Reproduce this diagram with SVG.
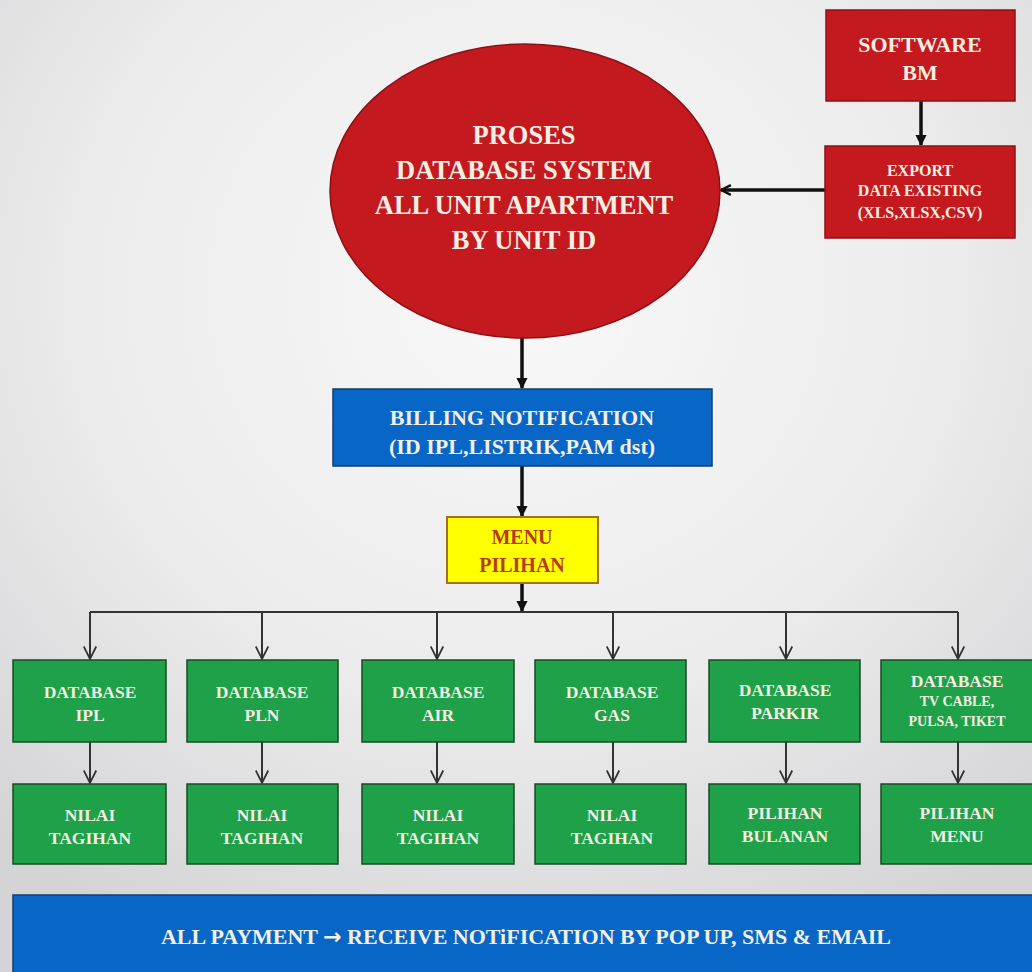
<svg xmlns="http://www.w3.org/2000/svg" width="1032" height="972" viewBox="0 0 1032 972">
<defs>
<radialGradient id="bg" cx="0.5" cy="0.3" r="0.75">
<stop offset="0" stop-color="#f8f8f8"/>
<stop offset="0.55" stop-color="#ececec"/>
<stop offset="1" stop-color="#d4d4d7"/>
</radialGradient>
<marker id="ah" viewBox="0 0 10 10" refX="9" refY="5" markerWidth="3.2" markerHeight="3.2" orient="auto" markerUnits="strokeWidth">
<path d="M0,0 L10,5 L0,10 Z" fill="#111"/>
</marker>
<marker id="ahl" viewBox="0 0 10 10" refX="9" refY="5" markerWidth="3.5" markerHeight="3.5" orient="auto" markerUnits="strokeWidth">
<path d="M1,1 L9,5 L1,9" fill="none" stroke="#111" stroke-width="2"/>
</marker>
<marker id="av" viewBox="0 0 12 12" refX="11" refY="6" markerWidth="7.5" markerHeight="7.5" orient="auto" markerUnits="strokeWidth">
<path d="M1,1 L11,6 L1,11" fill="none" stroke="#333" stroke-width="1.4"/>
</marker>
</defs>
<style>
.red{fill:#c41a1f;stroke:#8e1014;stroke-width:1.5}
.blue{fill:#0866c6;stroke:#123d6e;stroke-width:1.5}
.green{fill:#1fa14a;stroke:#1b4a26;stroke-width:1.5}
.yellow{fill:#ffff00;stroke:#a0701c;stroke-width:2}
text{font-family:"Liberation Serif","Times New Roman",serif;font-weight:bold;text-anchor:middle;fill:#f3efe2}
.t26{font-size:26.5px}
.t22{font-size:22px}
.t16{font-size:16px}
.t17{font-size:17.5px}
.t14{font-size:14px}
.menu{font-size:20px;fill:#b83a1c}
.arr{font-family:"DejaVu Sans",sans-serif;font-size:22px}
.thick{stroke:#111;stroke-width:3.5;fill:none}
.thin{stroke:#333;stroke-width:2;fill:none}
</style>
<rect x="0" y="0" width="1032" height="972" fill="url(#bg)"/>

<g id="connectors">
<line class="thick" x1="921" y1="101" x2="921" y2="145" marker-end="url(#ah)"/>
<line class="thick" x1="825" y1="190" x2="721" y2="190" marker-end="url(#ahl)"/>
<line class="thick" x1="522" y1="338" x2="522" y2="388" marker-end="url(#ah)"/>
<line class="thick" x1="522" y1="466" x2="522" y2="516" marker-end="url(#ah)"/>
<line class="thick" x1="522" y1="583" x2="522" y2="611" marker-end="url(#ah)"/>
<polyline class="thin" points="90,612 958,612"/>
<line class="thin" x1="90" y1="612" x2="90" y2="659" marker-end="url(#av)"/>
<line class="thin" x1="262" y1="612" x2="262" y2="659" marker-end="url(#av)"/>
<line class="thin" x1="437" y1="612" x2="437" y2="659" marker-end="url(#av)"/>
<line class="thin" x1="613" y1="612" x2="613" y2="659" marker-end="url(#av)"/>
<line class="thin" x1="786" y1="612" x2="786" y2="659" marker-end="url(#av)"/>
<line class="thin" x1="958" y1="612" x2="958" y2="659" marker-end="url(#av)"/>
<line class="thin" x1="90" y1="742" x2="90" y2="783" marker-end="url(#av)"/>
<line class="thin" x1="262" y1="742" x2="262" y2="783" marker-end="url(#av)"/>
<line class="thin" x1="437" y1="742" x2="437" y2="783" marker-end="url(#av)"/>
<line class="thin" x1="613" y1="742" x2="613" y2="783" marker-end="url(#av)"/>
<line class="thin" x1="786" y1="742" x2="786" y2="783" marker-end="url(#av)"/>
<line class="thin" x1="958" y1="742" x2="958" y2="783" marker-end="url(#av)"/>
</g>

<g id="software">
<rect class="red" x="826" y="10" width="189" height="91"/>
<text class="t22" x="920" y="52">SOFTWARE</text>
<text class="t22" x="920" y="80">BM</text>
</g>

<g id="export">
<rect class="red" x="825" y="146" width="190" height="92"/>
<text class="t16" x="920" y="176">EXPORT</text>
<text class="t16" x="920" y="196">DATA EXISTING</text>
<text class="t16" x="920" y="218">(XLS,XLSX,CSV)</text>
</g>

<g id="proses">
<ellipse class="red" cx="525" cy="191" rx="195" ry="147"/>
<text class="t26" x="524" y="144">PROSES</text>
<text class="t26" x="524" y="179">DATABASE SYSTEM</text>
<text class="t26" x="524" y="214">ALL UNIT APARTMENT</text>
<text class="t26" x="524" y="249">BY UNIT ID</text>
</g>

<g id="billing">
<rect class="blue" x="333" y="389" width="379" height="77"/>
<text class="t22" x="522" y="425">BILLING NOTIFICATION</text>
<text class="t22" x="522" y="454">(ID IPL,LISTRIK,PAM dst)</text>
</g>

<g id="menu">
<rect class="yellow" x="447" y="517" width="151" height="66"/>
<text class="menu" x="522" y="544">MENU</text>
<text class="menu" x="522" y="572">PILIHAN</text>
</g>

<g id="db-ipl">
<rect class="green" x="13" y="660" width="153" height="82"/>
<text class="t17" x="90" y="698">DATABASE</text>
<text class="t17" x="90" y="721">IPL</text>
</g>
<g id="db-pln">
<rect class="green" x="187" y="660" width="151" height="82"/>
<text class="t17" x="262" y="698">DATABASE</text>
<text class="t17" x="262" y="721">PLN</text>
</g>
<g id="db-air">
<rect class="green" x="362" y="660" width="152" height="82"/>
<text class="t17" x="438" y="698">DATABASE</text>
<text class="t17" x="438" y="721">AIR</text>
</g>
<g id="db-gas">
<rect class="green" x="535" y="660" width="151" height="82"/>
<text class="t17" x="612" y="698">DATABASE</text>
<text class="t17" x="612" y="721">GAS</text>
</g>
<g id="db-parkir">
<rect class="green" x="709" y="660" width="151" height="82"/>
<text class="t17" x="785" y="696">DATABASE</text>
<text class="t17" x="785" y="719">PARKIR</text>
</g>
<g id="db-tv">
<rect class="green" x="881" y="660" width="152" height="82"/>
<text class="t17" x="957" y="687">DATABASE</text>
<text class="t14" x="957" y="706">TV CABLE,</text>
<text class="t14" x="957" y="726">PULSA, TIKET</text>
</g>

<g id="nilai-ipl">
<rect class="green" x="13" y="784" width="153" height="80"/>
<text class="t17" x="90" y="821">NILAI</text>
<text class="t17" x="90" y="844">TAGIHAN</text>
</g>
<g id="nilai-pln">
<rect class="green" x="187" y="784" width="151" height="80"/>
<text class="t17" x="262" y="821">NILAI</text>
<text class="t17" x="262" y="844">TAGIHAN</text>
</g>
<g id="nilai-air">
<rect class="green" x="362" y="784" width="152" height="80"/>
<text class="t17" x="438" y="821">NILAI</text>
<text class="t17" x="438" y="844">TAGIHAN</text>
</g>
<g id="nilai-gas">
<rect class="green" x="535" y="784" width="151" height="80"/>
<text class="t17" x="612" y="821">NILAI</text>
<text class="t17" x="612" y="844">TAGIHAN</text>
</g>
<g id="pilihan-bulanan">
<rect class="green" x="709" y="784" width="151" height="80"/>
<text class="t17" x="785" y="819">PILIHAN</text>
<text class="t17" x="785" y="842">BULANAN</text>
</g>
<g id="pilihan-menu">
<rect class="green" x="881" y="784" width="152" height="80"/>
<text class="t17" x="957" y="819">PILIHAN</text>
<text class="t17" x="957" y="842">MENU</text>
</g>

<g id="payment">
<rect class="blue" x="13" y="895" width="1025" height="80"/>
<text class="t22" x="526" y="944">ALL PAYMENT <tspan class="arr">→</tspan> RECEIVE NOTiFICATION BY POP UP, SMS &amp; EMAIL</text>
</g>
</svg>
